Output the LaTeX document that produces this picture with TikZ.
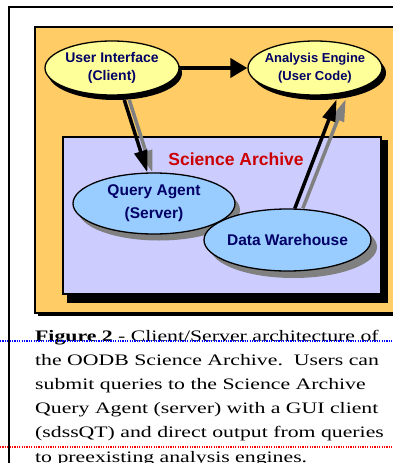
\documentclass[tikz,border=0pt]{standalone}
\usepackage{fontspec}
\usepackage{tikz}
\usetikzlibrary{arrows.meta,shapes.geometric}
\newfontfamily\labelfont{Liberation Sans}
\newfontfamily\capfont[FakeStretch=1.36]{Liberation Serif}
\definecolor{boxorange}{RGB}{255,204,102}
\definecolor{archivelilac}{RGB}{204,204,255}
\definecolor{clientyellow}{RGB}{255,255,153}
\definecolor{serverblue}{RGB}{153,204,255}
\definecolor{labelnavy}{RGB}{0,0,102}
\definecolor{titlered}{RGB}{204,0,0}

\begin{document}
\begin{tikzpicture}[x=1pt,y=-1pt,
    yellownode/.style={ellipse, draw=black, line width=1.3pt, fill=clientyellow, minimum width=134pt, minimum height=54pt, inner xsep=-25pt, inner ysep=0pt, align=center, text=labelnavy, font=\labelfont\bfseries\fontsize{14}{18}\selectfont},
    bluenode/.style={ellipse, draw=black, line width=1.3pt, fill=serverblue, minimum height=61pt, inner xsep=-25pt, inner ysep=0pt, align=center, text=labelnavy, font=\labelfont\bfseries\fontsize{15.5}{23}\selectfont},
    shadownode/.style={ellipse, fill=#1, inner sep=0pt},
    flowarrow/.style={line width=4pt, -{Triangle[length=17pt,width=19pt]}},
    pipearrow/.style={line width=3.5pt, -{Triangle[length=22pt,width=13pt]}},
    capline/.style={anchor=base west, inner sep=0pt, font=\capfont\fontsize{16}{19}\selectfont},
    markline/.style={line width=1.2pt, dash pattern=on 1.2pt off 1.2pt},
    ]
    \clip (0,0) rectangle (393,463);

    %Frame and boxes
    \draw[line width=1.6pt] (9,470) -- (9,7) -- (400,7);
    \fill (38,30) rectangle (403,316);
    \draw[line width=1.6pt, fill=boxorange] (35,27) rectangle (400,313);
    \fill (67,140) rectangle (388,303);
    \draw[line width=1.2pt, fill=archivelilac] (63,137) rectangle (381,294);
    \node[text=titlered, font=\labelfont\bfseries\fontsize{17.5}{20}\selectfont] (archive) at (236,159) {Science Archive};

    %Nodes
    \node[shadownode=gray, minimum width=162pt, minimum height=61pt] (agentshadow) at (159,210) {};
    \node[bluenode, minimum width=162pt] (agent) at (154,203.5) {Query Agent\\(Server)};
    \node[shadownode=gray, minimum width=167pt, minimum height=62pt] (warehouseshadow) at (293.5,247) {};
    \node[bluenode, minimum width=167pt, minimum height=62pt] (warehouse) at (287.5,240) {Data Warehouse};
    \node[shadownode=black, minimum width=134pt, minimum height=54pt] (clientshadow) at (115,73) {};
    \node[yellownode] (client) at (112,68) {User Interface\\(Client)};
    \node[shadownode=black, minimum width=134pt, minimum height=54pt] (engineshadow) at (319,73) {};
    \node[yellownode, font=\labelfont\bfseries\fontsize{13}{18}\selectfont] (engine) at (315,68) {Analysis Engine\\(User Code)};

    %Lines
    \draw[flowarrow] (client.east) -- (engine.west);
    \draw[pipearrow, gray] ([xshift=5pt]clientshadow.-71) -- ([xshift=5pt]agent.102);
    \draw[pipearrow] (clientshadow.-71) -- (agent.102);
    \draw[pipearrow, gray] ([xshift=8pt]warehouse.77) -- ([xshift=9pt]engineshadow.-56);
    \draw[pipearrow] (warehouse.77) -- (engineshadow.-56);

    %Caption
    \foreach \captext [count=\i] in {{\textbf{Figure 2} - Client/Server architecture of},
        {the OODB Science Archive.\ \ Users can},
        {submit queries to the Science Archive},
        {Query Agent (server) with a GUI client},
        {(sdssQT) and direct output from queries},
        {to preexisting analysis engines.}}
        \node[capline] (cap\i) at (35,{341+24.2*(\i-1)}) {\captext};
    \draw[markline, blue] (0,341) -- (393,341);
    \draw[markline, red] (0,447) -- (393,447);
\end{tikzpicture}
\end{document}
